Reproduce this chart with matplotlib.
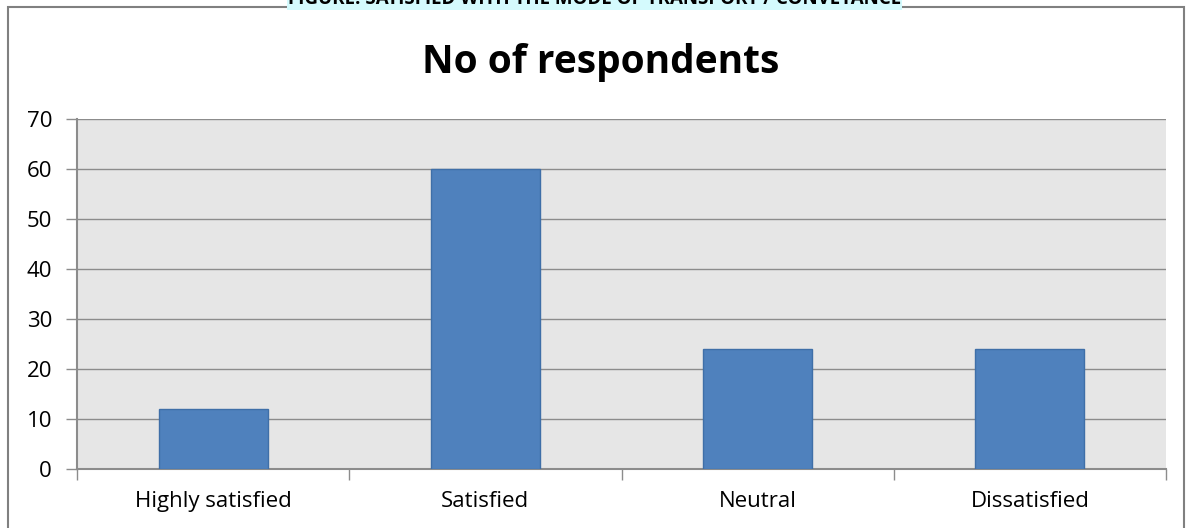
import matplotlib.pyplot as plt
from matplotlib.patches import Rectangle

# data
categories = ['Highly satisfied', 'Satisfied', 'Neutral', 'Dissatisfied']
respondents = [12, 60, 24, 24]
y_ticks = [0, 10, 20, 30, 40, 50, 60, 70]

W, H = 1189, 528
fig = plt.figure(figsize=(W / 100, H / 100), dpi=100)
plt.rcParams['font.family'] = ['Open Sans', 'DejaVu Sans']

# caption at the very top, cut by the picture edge as in the source
fig.text(0.5, 1.0 + 1 / H, 'FIGURE: SATISFIED WITH THE MODE OF TRANSPORT / CONVEYANCE',
         ha='center', va='center', fontsize=13.5, fontweight='bold', color='black',
         bbox=dict(facecolor='#D4FAFD', edgecolor='none', pad=1))

# outer chart frame (bottom edge runs off the picture)
fig.patches.append(Rectangle((8 / W, -0.05), (1184 - 8) / W, 1.05 - 7 / H, transform=fig.transFigure,
                             fill=False, edgecolor='#808080', linewidth=1.5))

ax = fig.add_axes([77 / W, (H - 469) / H, (1166 - 77) / W, (469 - 119) / H])
ax.set_facecolor('#E6E6E6')

x = list(range(len(categories)))
ax.bar(x, respondents, width=0.40, color='#4F81BD', edgecolor='#3F6FA8', linewidth=1, zorder=3)

ax.set_xlim(-0.5, len(categories) - 0.5)
ax.set_ylim(0, 70)
ax.set_yticks(y_ticks)
ax.yaxis.grid(True, color='#8C8C8C', linewidth=1, zorder=0)
ax.set_axisbelow(True)

ax.set_xticks(x)
ax.set_xticklabels(categories, fontsize=16)
ax.tick_params(axis='x', length=0, pad=16)
ax.set_xticks([i - 0.5 for i in range(len(categories) + 1)], minor=True)
ax.tick_params(axis='x', which='minor', length=8, color='#8C8C8C', width=1)
ax.tick_params(axis='y', labelsize=16, length=8, color='#8C8C8C', width=1, pad=10)

for s in ['top', 'right']:
    ax.spines[s].set_visible(False)
for s in ['left', 'bottom']:
    ax.spines[s].set_color('#8C8C8C')
    ax.spines[s].set_linewidth(1.5)

fig.text(0.505, (H - 63) / H, 'No of respondents', ha='center', va='center',
         fontsize=28, fontweight='bold')

fig.savefig('out.png', dpi=100)
